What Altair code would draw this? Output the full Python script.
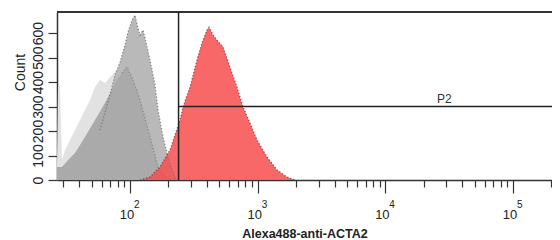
import altair as alt
import pandas as pd

# ---- data ----
light_x = [26.8, 27.3, 28.3, 29.3, 31.0, 33.9, 37.1, 40.6, 44.4, 48.6, 53.2, 58.2, 63.7, 69.7, 76.3, 83.5, 91.4, 100, 109.4]
light_y = [61, 380, 380, 82, 122, 163, 204, 245, 286, 327, 380, 408, 396, 420, 441, 457, 429, 122, 0]

mid_x = [58.2, 69.7, 76.3, 83.5, 91.4, 96.5, 103.7, 109.4, 115.5, 119.7, 126.4, 131.1, 143.4, 157.0, 165.7, 181.3, 198.5, 213.2, 225.0, 237.7]
mid_y = [204, 347, 429, 482, 551, 604, 653, 673, 620, 592, 612, 580, 490, 388, 286, 176, 94, 41, 8, 0]

dark_x = [26.8, 29.3, 33.9, 37.1, 44.4, 53.2, 63.7, 76.3, 86.5, 94.7, 105.6, 119.7, 143.4, 165.7, 187.9, 205.6]
dark_y = [53, 53, 90, 110, 176, 245, 314, 396, 437, 461, 408, 327, 176, 53, 12, 0]

red_x = [119.7, 143.4, 171.8, 205.6, 246.4, 260.1, 295.1, 334.7, 366.3, 400.9, 415.6, 446.7, 479.9, 534.6, 606.4, 688.0, 767.1, 870.4, 987.4, 1183, 1416, 1695, 1958]
red_y = [0, 12, 53, 122, 245, 298, 380, 490, 559, 612, 624, 592, 571, 543, 461, 380, 298, 233, 163, 94, 41, 12, 0]

x_ticks = [30, 40, 50, 60, 70, 80, 90, 100,
           200, 300, 400, 500, 600, 700, 800, 900, 1000,
           2000, 3000, 4000, 5000, 6000, 7000, 8000, 9000, 10000,
           20000, 30000, 40000, 50000, 60000, 70000, 80000, 90000, 100000, 200000]
decades = [100, 1000, 10000, 100000]
exponents = ["2", "3", "4", "5"]
y_ticks = [0, 100, 200, 300, 400, 500, 600]

gate_x = 240
gate_y = 300
gate_label = "P2"
gate_label_x = 29000

x_title = "Alexa488-anti-ACTA2"
y_title = "Count"

X_DOMAIN = [26.8, 201900]
Y_DOMAIN = [0, 686]
W, H = 495, 168
FONT = "Liberation Sans"

xs = alt.Scale(type="log", domain=X_DOMAIN, nice=False)
ys = alt.Scale(domain=Y_DOMAIN, nice=False)

def df(xv, yv):
    return pd.DataFrame({"x": xv, "y": yv})

major_test = "datum.value == 100 || datum.value == 1000 || datum.value == 10000 || datum.value == 100000"

x_axis = alt.Axis(
    values=x_ticks, labels=False, grid=False,
    tickSize={"condition": {"test": major_test, "value": 13}, "value": 7},
    tickColor="#333", tickWidth=1.2, domainColor="#333", domainWidth=1.5,
    title=x_title, titleFont=FONT, titleFontSize=12.5, titleFontWeight="bold",
    titleColor="#222", titleY=57, titleBaseline="alphabetic",
)
y_axis = alt.Axis(
    values=y_ticks, grid=False, labelAngle=270, labelFont=FONT, labelFontSize=14,
    labelOverlap=False, labelColor="#222", labelPadding=3,
    tickSize=9, tickColor="#333", tickWidth=1.2, domainColor="#333", domainWidth=1.5,
    title=y_title, titleFont=FONT, titleFontSize=14, titleFontWeight="normal",
    titleColor="#222", titleX=-37, titleY=60, titleAngle=270,
    titleAlign="center", titleBaseline="middle",
)

X = lambda: alt.X("x:Q", scale=xs, axis=x_axis)
Y = lambda: alt.Y("y:Q", scale=ys, axis=y_axis)

def area(xv, yv, color, opacity=1.0):
    return alt.Chart(df(xv, yv)).mark_area(color=color, opacity=opacity, interpolate="linear").encode(x=X(), y=Y())

def outline(xv, yv, color):
    return alt.Chart(df(xv, yv)).mark_line(color=color, strokeDash=[1.2, 2], strokeWidth=1.3, opacity=0.8).encode(x=X(), y=Y())

light = area(light_x, light_y, "#e2e2e2")
mid = area(mid_x, mid_y, "#b9b9b9")
dark = area(dark_x, dark_y, "#aaaaaa")
red = area(red_x, red_y, "#f74e4e", opacity=0.85)

mid_line = outline(mid_x, mid_y, "#6e6e6e")
dark_line = outline(dark_x[8:], dark_y[8:], "#7a7a7a")
red_line = outline(red_x, red_y, "#8a2a2a")

top_rule = alt.Chart(pd.DataFrame({"y": [Y_DOMAIN[1]]})).mark_rule(color="#333", strokeWidth=2).encode(
    y=Y(), x=alt.value(0), x2=alt.value(W)
)
v_gate = alt.Chart(pd.DataFrame({"x": [gate_x]})).mark_rule(color="#222", strokeWidth=1.5).encode(x=X())
h_gate = alt.Chart(pd.DataFrame({"x": [gate_x], "y": [gate_y]})).mark_rule(color="#222", strokeWidth=1.5).encode(
    x=X(), x2=alt.value(W), y=Y()
)
p2 = alt.Chart(pd.DataFrame({"x": [gate_label_x], "y": [gate_y], "t": [gate_label]})).mark_text(
    font=FONT, fontSize=12, color="#333", baseline="bottom", dy=-1
).encode(x=X(), y=Y(), text="t:N")

dec_df = pd.DataFrame({"x": decades, "e": exponents, "b": ["10"] * 4})
ten = alt.Chart(dec_df).mark_text(font=FONT, fontSize=13, color="#222", align="center", baseline="alphabetic", dx=-3).encode(
    x=X(), y=alt.value(207), text="b:N"
)
exp = alt.Chart(dec_df).mark_text(font=FONT, fontSize=10, color="#222", align="left", baseline="alphabetic", dx=4).encode(
    x=X(), y=alt.value(196), text="e:N"
)

chart = alt.layer(
    light, mid, dark, red, mid_line, dark_line, red_line,
    top_rule, v_gate, h_gate, p2, ten, exp
).properties(
    width=W, height=H,
    padding={"left": 49, "top": 4, "right": 0, "bottom": 60},
    autosize=alt.AutoSizeParams(type="none"),
).configure_view(stroke=None)

chart.save("out.html", embed_options={"renderer": "svg", "actions": False})
